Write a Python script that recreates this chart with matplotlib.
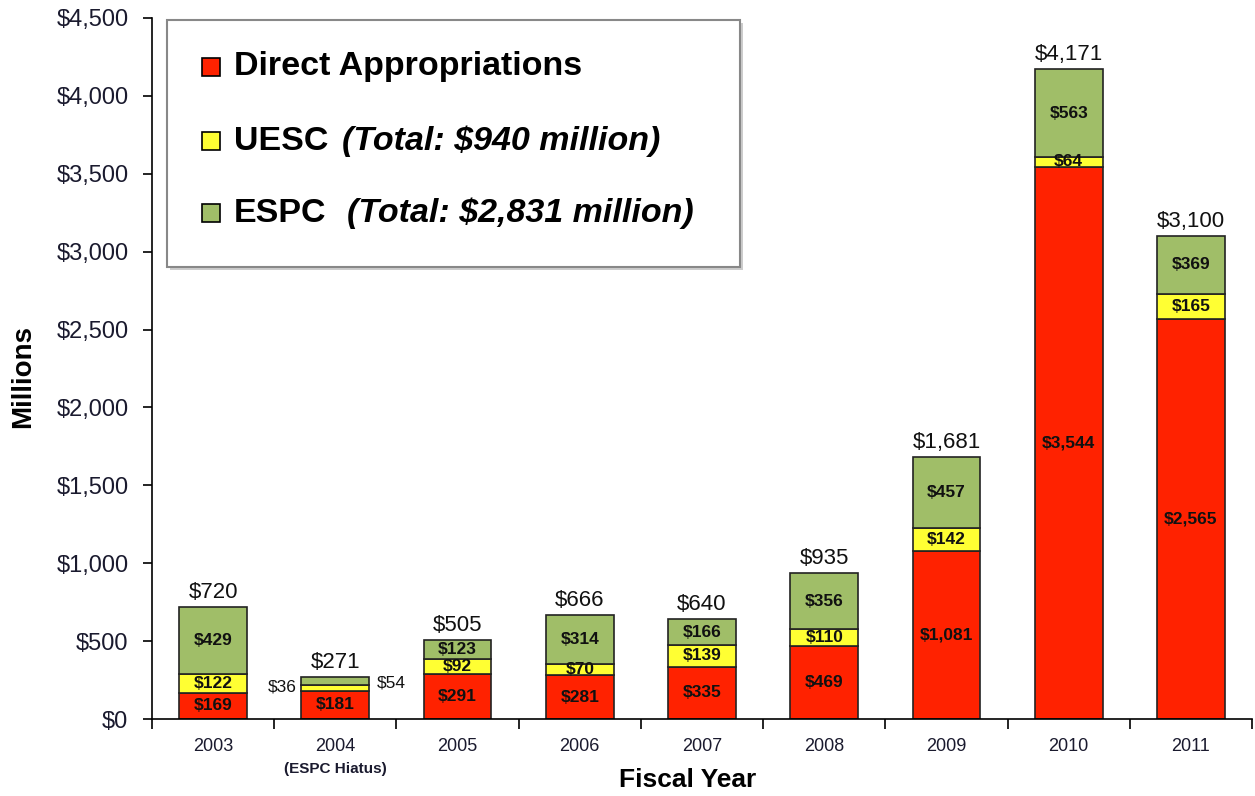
import matplotlib
matplotlib.use("Agg")
import matplotlib.pyplot as plt
from matplotlib.patches import Rectangle
from matplotlib import font_manager
import numpy as np

plt.rcParams['font.family'] = ['Liberation Sans', 'DejaVu Sans']
_names = {f.name for f in font_manager.fontManager.ttflist}
narrow_ok = 'Liberation Sans Narrow' in _names
NARROW = ['Liberation Sans Narrow', 'Liberation Sans'] if narrow_ok else ['Liberation Sans']

years = ['2003', '2004', '2005', '2006', '2007', '2008', '2009', '2010', '2011']
direct = [169, 181, 291, 281, 335, 469, 1081, 3544, 2565]
uesc = [122, 36, 92, 70, 139, 110, 142, 64, 165]
espc = [429, 54, 123, 314, 166, 356, 457, 563, 369]
totals = [720, 271, 505, 666, 640, 935, 1681, 4171, 3100]
yticks = [0, 500, 1000, 1500, 2000, 2500, 3000, 3500, 4000, 4500]

c_red = '#FF2200'
c_yel = '#FFFF33'
c_grn = '#A0BE68'

W, H = 1255, 796
fig = plt.figure(figsize=(W / 100, H / 100), dpi=100)
ax = fig.add_axes([152 / W, 1 - 719 / H, 1100 / W, 701 / H])

x = np.arange(len(years))
w = 0.555
d = np.array(direct); u = np.array(uesc); e = np.array(espc)
ax.bar(x, d, w, color=c_red, edgecolor='#222222', linewidth=1.2, zorder=2)
ax.bar(x, u, w, bottom=d, color=c_yel, edgecolor='#222222', linewidth=1.2, zorder=2)
ax.bar(x, e, w, bottom=d + u, color=c_grn, edgecolor='#222222', linewidth=1.2, zorder=2)

lab_kw = dict(ha='center', va='center', fontsize=14 if narrow_ok else 12.5,
              fontweight='bold', family=NARROW, color='#111111', zorder=3)
for i in range(len(years)):
    ax.text(i, d[i] / 2, f'${d[i]:,}', **lab_kw)
    if i == 1:
        ax.text(i - w / 2 - 0.04, d[i] + 25, f'${u[i]:,}', ha='right', va='center',
                fontsize=12.5, color='#111111')
        ax.text(i + w / 2 + 0.06, d[i] + 50, f'${e[i]:,}', ha='left', va='center',
                fontsize=12.5, color='#111111')
    else:
        ax.text(i, d[i] + u[i] / 2, f'${u[i]:,}', **lab_kw)
        ax.text(i, d[i] + u[i] + e[i] / 2, f'${e[i]:,}', **lab_kw)
    ax.annotate(f'${totals[i]:,}', (i, totals[i]), xytext=(0, 3),
                textcoords='offset points', ha='center', va='bottom',
                fontsize=16, color='#111111')

ax.set_xlim(-0.5, len(years) - 0.5)
ax.set_ylim(0, 4500)
ax.set_yticks(yticks)
ax.set_yticklabels([f'${v:,}' for v in yticks], fontsize=17, color='#1a1a2e')
ax.set_xticks(x)
ax.set_xticklabels(years, fontsize=13, color='#1a1a2e')
ax.tick_params(axis='x', which='major', length=0, pad=14)
ax.set_xticks(np.arange(-0.5, len(years)), minor=True)
ax.tick_params(axis='x', which='minor', length=7, width=1.2, direction='out')
ax.tick_params(axis='y', length=6.5, width=1.2, direction='out', pad=10.5)
for s in ['top', 'right']:
    ax.spines[s].set_visible(False)
ax.spines['left'].set_linewidth(1.2)
ax.spines['bottom'].set_linewidth(1.2)

ax.text(1, -0.072, '(ESPC Hiatus)', transform=ax.get_xaxis_transform(),
        ha='center', va='center', fontsize=11, fontweight='bold', color='#1a1a2e')
fig.text(688 / W, 1 - 780 / H, 'Fiscal Year', ha='center', va='center',
         fontsize=19, fontweight='bold')
fig.text(23 / W, 1 - 376 / H, 'Millions', ha='center', va='center',
         rotation=90, fontsize=20, fontweight='bold')

def fx(px): return px / W
def fy(py): return 1 - py / H

shadow = Rectangle((fx(170), fy(270)), fx(740) - fx(167), fy(20) - fy(267),
                   transform=fig.transFigure, facecolor='#cccccc', edgecolor='none',
                   zorder=4)
box = Rectangle((fx(167), fy(267)), fx(740) - fx(167), fy(20) - fy(267),
                transform=fig.transFigure, facecolor='white', edgecolor='#888888',
                linewidth=1.5, zorder=5)
fig.patches.extend([shadow, box])

entries = [
    (c_red, 'Direct Appropriations', '', 67, 0),
    (c_yel, 'UESC', '(Total: $940 million)', 141, 342),
    (c_grn, 'ESPC', '(Total: $2,831 million)', 213, 347),
]
for col, t1, t2, py, x2 in entries:
    sq = Rectangle((fx(202), fy(py + 9)), fx(18), fy(0) - fy(18),
                   transform=fig.transFigure, facecolor=col, edgecolor='black',
                   linewidth=1.2, zorder=6)
    fig.patches.append(sq)
    fig.text(fx(234), fy(py), t1, fontsize=24.5, fontweight='bold',
             ha='left', va='center', zorder=7)
    if t2:
        fig.text(fx(x2), fy(py), t2, fontsize=24.5, fontweight='bold',
                 fontstyle='italic', ha='left', va='center', zorder=7)

fig.savefig('out.png', dpi=100)
